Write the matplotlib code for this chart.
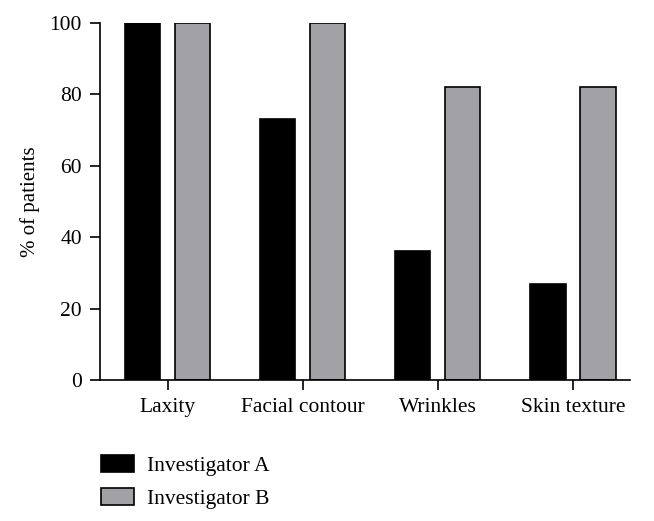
import matplotlib
import matplotlib.pyplot as plt
import numpy as np
from matplotlib.patches import Patch

matplotlib.use('Agg')

categories = ['Laxity', 'Facial contour', 'Wrinkles', 'Skin texture']
investigator_a = [100, 73, 36, 27]
investigator_b = [100, 100, 82, 82]
series_labels = ['Investigator A', 'Investigator B']
y_ticks = [0, 20, 40, 60, 80, 100]

COLOR_A = '#000000'
COLOR_B = '#a2a2a6'

plt.rcParams['font.family'] = ['Liberation Serif', 'DejaVu Serif']

fig = plt.figure(figsize=(6.54, 5.21), dpi=100)
ax = fig.add_axes([0.153, 0.2706, 0.81, 0.6853])

x = np.arange(len(categories))
width = 0.26
offset = 0.185
ax.bar(x - offset, investigator_a, width, color=COLOR_A, edgecolor='black', linewidth=1.2)
ax.bar(x + offset, investigator_b, width, color=COLOR_B, edgecolor='black', linewidth=1.2)

ax.set_xlim(-0.5, 3.42)
ax.set_ylim(0, 100)
ax.set_yticks(y_ticks)
ax.set_xticks(x)
ax.set_xticklabels(categories)
ax.set_ylabel('% of patients', fontsize=15, labelpad=7)

for side in ['top', 'right']:
    ax.spines[side].set_visible(False)
for side in ['left', 'bottom']:
    ax.spines[side].set_linewidth(1.2)
ax.tick_params(axis='both', labelsize=15.5, width=1.2, length=7, pad=6)

handles = [
    Patch(facecolor=COLOR_A, edgecolor='black', linewidth=1.2),
    Patch(facecolor=COLOR_B, edgecolor='black', linewidth=1.2),
]
fig.legend(
    handles,
    series_labels,
    loc='upper left',
    bbox_to_anchor=(0.154, 0.126),
    frameon=False,
    fontsize=15.5,
    borderpad=0,
    borderaxespad=0,
    handlelength=1.55,
    handleheight=0.84,
    handletextpad=0.6,
    labelspacing=0.53,
)

plt.savefig('out.png', dpi=100)
plt.close()
